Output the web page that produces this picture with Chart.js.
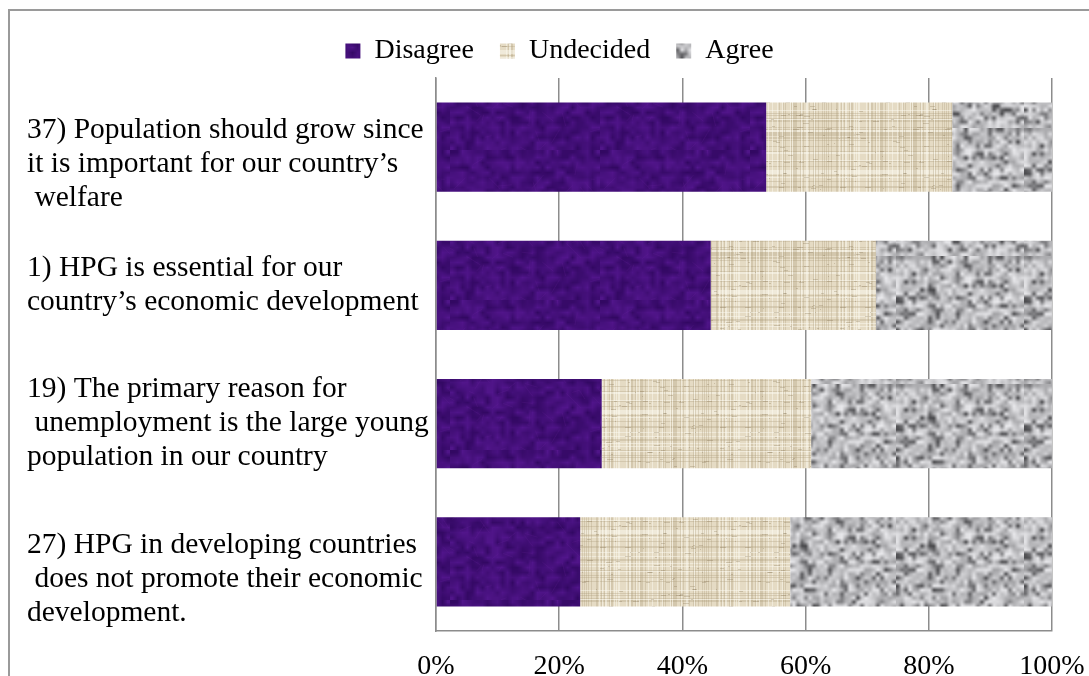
<!DOCTYPE html>
<html>
<head>
<meta charset="utf-8">
<script src="https://cdn.jsdelivr.net/npm/chart.js@4.4.0/dist/chart.umd.min.js"></script>
<style>
  body { margin: 0; background: #ffffff; }
  canvas { display: block; }
</style>
</head>
<body>
<canvas id="chart" width="1089" height="676"></canvas>
<script>
// statements (each one split on lines, the way they wrap in the original)
const statements = [
  ['37) Population should grow since', 'it is important for our country\u2019s', ' welfare'],
  ['1) HPG is essential for our', 'country\u2019s economic development'],
  ['19) The primary reason for', ' unemployment is the large young', 'population in our country'],
  ['27) HPG in developing countries', ' does not promote their economic', 'development.']
];
const disagree  = [53.6, 44.6, 26.9, 23.4];
const undecided = [30.2, 26.8, 34.0, 34.1];
const agree     = [16.2, 28.6, 39.1, 42.5];
const xTicks = [0, 20, 40, 60, 80, 100];

const serif = "'Liberation Serif', 'Times New Roman', serif";

// small seeded generator, only used for the fill textures
function seeded(s) {
  return function () {
    s |= 0; s = s + 0x6D2B79F5 | 0;
    let t = Math.imul(s ^ s >>> 15, 1 | s);
    t = t + Math.imul(t ^ t >>> 7, 61 | t) ^ t;
    return ((t ^ t >>> 14) >>> 0) / 4294967296;
  };
}

// blobby noise: tiny canvas of noise scaled up with smoothing
function noiseCanvas(cells, scale, seed, colorFn) {
  const small = document.createElement('canvas');
  small.width = cells; small.height = cells;
  const sg = small.getContext('2d');
  const img = sg.createImageData(cells, cells);
  const rnd = seeded(seed);
  for (let p = 0; p < cells * cells; p++) {
    const [r, g, b] = colorFn(rnd());
    img.data[p * 4] = r; img.data[p * 4 + 1] = g; img.data[p * 4 + 2] = b; img.data[p * 4 + 3] = 255;
  }
  sg.putImageData(img, 0, 0);
  const big = document.createElement('canvas');
  big.width = cells * scale; big.height = cells * scale;
  const bg = big.getContext('2d');
  bg.imageSmoothingEnabled = true;
  bg.drawImage(small, 0, 0, big.width, big.height);
  return big;
}

function purplePattern() {
  const c = noiseCanvas(30, 5, 7, v => [50 + 32 * v, 8 + 14 * v, 98 + 42 * v]);
  const g = c.getContext('2d');
  const rnd = seeded(3);
  // faint veins
  g.strokeStyle = 'rgba(110,40,160,0.18)';
  g.lineWidth = 1;
  for (let k = 0; k < 60; k++) {
    const x = rnd() * 150, y = rnd() * 150;
    g.beginPath();
    g.moveTo(x, y);
    g.lineTo(x + (rnd() - 0.5) * 30, y + (rnd() - 0.5) * 30);
    g.stroke();
  }
  return g.createPattern(c, 'repeat');
}

function linenPattern() {
  const c = document.createElement('canvas');
  c.width = 120; c.height = 120;
  const g = c.getContext('2d');
  const rnd = seeded(13);
  g.fillStyle = '#e5dbc4';
  g.fillRect(0, 0, 120, 120);
  for (let k = 0; k < 120; k += 1) {
    if (rnd() < 0.4) {
      g.fillStyle = rnd() < 0.55 ? 'rgba(170,152,118,0.3)' : 'rgba(252,249,240,0.5)';
      g.fillRect(k, 0, 1, 120);
    }
    if (rnd() < 0.4) {
      g.fillStyle = rnd() < 0.55 ? 'rgba(170,152,118,0.3)' : 'rgba(252,249,240,0.5)';
      g.fillRect(0, k, 120, 1);
    }
  }
  for (let k = 0; k < 120; k++) {
    g.fillStyle = 'rgba(130,112,80,0.28)';
    g.fillRect(Math.floor(rnd() * 120), Math.floor(rnd() * 120), 1 + Math.floor(rnd() * 6), 1);
  }
  return g.createPattern(c, 'repeat');
}

function greyPattern() {
  const c = noiseCanvas(32, 4, 29, v => {
    const k = v < 0.22 ? 70 + v * 320 : 160 + (v - 0.22) * 95;
    return [k, k, k + 3];
  });
  return c.getContext('2d').createPattern(c, 'repeat');
}

// grey frame round the whole figure, and the legend nudged to where it sits in the original
const framePlugin = {
  id: 'frame',
  afterLayout(chart) {
    const lg = chart.legend;
    lg.top -= 3; lg.bottom -= 3;
    lg.left += 20; lg.right += 20;
  },
  beforeDraw(chart) {
    const ctx = chart.ctx;
    ctx.save();
    ctx.strokeStyle = '#9a9a9a';
    ctx.lineWidth = 2;
    ctx.strokeRect(9, 10, 1200, 800);
    ctx.restore();
  }
};

new Chart(document.getElementById('chart'), {
  type: 'bar',
  data: {
    labels: statements,
    datasets: [
      { label: 'Disagree',  data: disagree,  backgroundColor: purplePattern() },
      { label: 'Undecided', data: undecided, backgroundColor: linenPattern() },
      { label: 'Agree',     data: agree,     backgroundColor: greyPattern() }
    ]
  },
  options: {
    indexAxis: 'y',
    responsive: false,
    animation: false,
    layout: { padding: { left: 27, right: 37, top: 14, bottom: 0 } },
    datasets: { bar: { barPercentage: 0.645, categoryPercentage: 1 } },
    plugins: {
      tooltip: { enabled: false },
      legend: {
        position: 'top',
        labels: {
          color: '#000',
          font: { family: serif, size: 28 },
          boxWidth: 15,
          boxHeight: 15,
          padding: 26
        }
      }
    },
    scales: {
      x: {
        stacked: true,
        min: 0,
        max: 100,
        afterBuildTicks(scale) { scale.ticks = xTicks.map(v => ({ value: v })); },
        afterFit(scale) { scale.height = 45; scale.paddingLeft = 0; scale.paddingRight = 0; },
        grid: { color: '#8c8c8c', lineWidth: 1.5, drawTicks: false },
        border: { color: '#8c8c8c', width: 1.5 },
        ticks: {
          color: '#000',
          font: { family: serif, size: 28 },
          padding: 19,
          maxRotation: 0,
          autoSkip: false,
          callback: v => v + '%'
        }
      },
      y: {
        stacked: true,
        afterFit(scale) { scale.width = 409; scale.paddingTop = 0; scale.paddingBottom = 0; },
        grid: { display: false },
        border: { color: '#8c8c8c', width: 1.5 },
        ticks: {
          color: '#000',
          crossAlign: 'far',
          autoSkip: false,
          font: { family: serif, size: 29.5, lineHeight: 1.15 },
          // in the original the 1st and 4th text boxes sit about half a line lower
          callback: (v, i) => (i === 0 || i === 3) ? [''].concat(statements[i]) : statements[i]
        }
      }
    }
  },
  plugins: [framePlugin]
});
</script>
</body>
</html>
